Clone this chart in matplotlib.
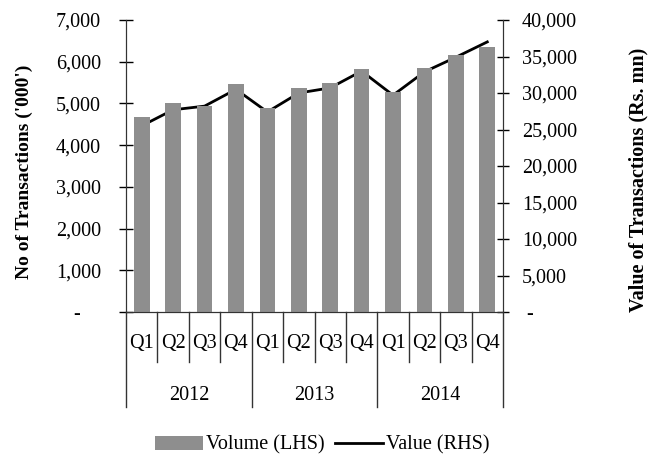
import numpy as np
import matplotlib.pyplot as plt
from matplotlib.patches import Patch
from matplotlib.lines import Line2D
from matplotlib.ticker import FuncFormatter

plt.rcParams['font.family'] = ['Liberation Serif', 'DejaVu Serif']

# quarterly data
quarters = ["Q1", "Q2", "Q3", "Q4"] * 3
years = ["2012", "2013", "2014"]
volume = [4680, 5010, 4940, 5470, 4890, 5370, 5490, 5830, 5280, 5850, 6160, 6360]      # '000
value = [25500, 27700, 28200, 30500, 27400, 30000, 30700, 33000, 29700, 32900, 34900, 37000]  # Rs. mn

def fmt_left(v, pos):
    return "-    " if v == 0 else "{:,.0f}".format(v)

def fmt_right(v, pos):
    return " -" if v == 0 else "{:,.0f}".format(v)

fig = plt.figure(figsize=(6.49, 4.58), dpi=100)
ax = fig.add_axes([126/649, 1-312/458, (503-126)/649, (312-20)/458])
ax2 = ax.twinx()

x = np.arange(len(volume))
ax.bar(x, volume, width=0.5, color="#8e8e8e", zorder=2)
ax2.plot(x, value, color="black", lw=2, zorder=3)

ax.set_xlim(-0.5, len(volume) - 0.5)
ax.set_ylim(0, 7000)
ax2.set_ylim(0, 40000)
ax.set_yticks(np.arange(0, 7001, 1000))
ax2.set_yticks(np.arange(0, 40001, 5000))
ax.yaxis.set_major_formatter(FuncFormatter(fmt_left))
ax2.yaxis.set_major_formatter(FuncFormatter(fmt_right))
ax.tick_params(axis="y", direction="inout", length=10, width=1, labelsize=14.5, pad=13)
ax2.tick_params(axis="y", direction="inout", length=9, width=1, labelsize=14.5, pad=9)
ax.set_xticks([])

for a in (ax, ax2):
    a.spines["top"].set_visible(False)
    a.spines["left"].set_color("#333333")
    a.spines["right"].set_color("#333333")
    a.spines["bottom"].set_color("#333333")
ax2.set_zorder(0)
ax.set_zorder(1)
ax.patch.set_visible(False)
ax2.patch.set_visible(False)

# two-level category axis
tr = ax.get_xaxis_transform()
for i in range(len(volume) + 1):
    depth = -0.325 if i % 4 == 0 else -0.17
    ax.plot([i - 0.5, i - 0.5], [0, depth], transform=tr, color="#333333",
            lw=1, clip_on=False)
for i, q in enumerate(quarters):
    ax.text(i, -0.107, q, transform=tr, ha="center", va="center", fontsize=14.5)
for j, yr in enumerate(years):
    ax.text(4 * j + 1.5, -0.285, yr, transform=tr, ha="center", va="center", fontsize=14.5)

fig.text(24/649, 1-172/458, "No of Transactions ('000')", rotation=90,
         ha="center", va="center", fontsize=14, fontweight="bold")
fig.text(638/649, 1-180/458, "Value of Transactions (Rs. mn)", rotation=90,
         ha="center", va="center", fontsize=14.5, fontweight="bold")

handles = [Patch(facecolor="#8e8e8e"), Line2D([], [], color="black", lw=2)]
fig.legend(handles, ["Volume (LHS)", "Value (RHS)"], loc="center",
           bbox_to_anchor=(322/649, 1-445/458), ncol=2, frameon=False,
           fontsize=14.5, handlelength=2.4, handleheight=0.7,
           handletextpad=0.15, columnspacing=0.5)

fig.savefig("out.png", dpi=100)
